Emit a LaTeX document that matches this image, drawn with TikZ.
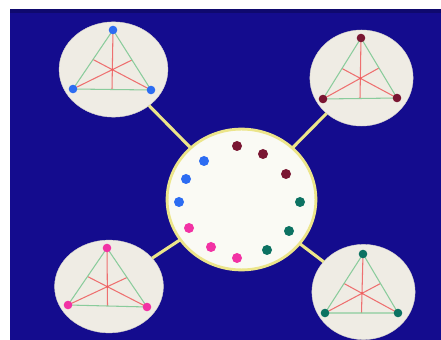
\documentclass[tikz,border=0pt]{standalone}
\usepackage{xcolor}
\usepackage{tikz}
\usetikzlibrary{shapes.geometric,calc}
\definecolor{SlBlue}{HTML}{140C8E}
\definecolor{SlDark}{HTML}{0C0850}
\definecolor{SlPaper}{HTML}{EFECE4}
\definecolor{SlHub}{HTML}{FAFAF4}
\definecolor{SlYellow}{HTML}{ECE58A}
\definecolor{SlGreen}{HTML}{8ACC9C}
\definecolor{SlRed}{HTML}{EE7070}
\definecolor{DotBlue}{HTML}{2C6CF2}
\definecolor{DotMaroon}{HTML}{7A1632}
\definecolor{DotTeal}{HTML}{0C7262}
\definecolor{DotPink}{HTML}{F232A4}
\tikzset{
  disc/.style={ellipse,fill=SlPaper,draw=SlPaper!90!black,line width=.3pt,inner sep=0pt,outer sep=0pt},
  hub/.style={ellipse,fill=SlHub,draw=SlYellow,line width=2pt,inner sep=0pt,outer sep=0pt,
    minimum width=3.72cm,minimum height=3.52cm},
  link/.style={draw=SlYellow,line width=2.2pt},
  edge/.style={draw=SlGreen,line width=.75pt},
  median/.style={draw=SlRed,line width=.75pt}
}

\begin{document}
\begin{tikzpicture}[x=0.025cm,y=-0.025cm]
\path[use as bounding box] (0,0) rectangle (441,340);
\fill[white] (0,0) rectangle (441,340);
\fill[SlBlue] (10,9) rectangle (441,340);
\fill[SlDark,opacity=.5] (10,9) rectangle (441,13);

% discs
\node[hub] (hub) at (241.5,199.5) {};
\node[disc,minimum width=2.72cm,minimum height=2.38cm] (tl) at (113.5,69.5) {};
\node[disc,minimum width=2.58cm,minimum height=2.40cm] (tr) at (361.5,78) {};
\node[disc,minimum width=2.72cm,minimum height=2.32cm] (bl) at (109,286.5) {};
\node[disc,minimum width=2.58cm,minimum height=2.38cm] (br) at (363.5,292) {};

% links
\draw[link] (hub) -- (tl);
\draw[link] (hub) -- (tr);
\draw[link] (hub) -- (bl);
\draw[link] (hub) -- (br);

% triangles
\foreach \t/\ax/\ay/\bx/\by/\cx/\cy/\col in {
  tl/113/30/73/89/151/90/DotBlue,
  tr/361/38/323/99/397/98/DotMaroon,
  bl/107/248/68/305/147/307/DotPink,
  br/363/254/325/313/398/313/DotTeal}{
  \coordinate (\t A) at (\ax,\ay);
  \coordinate (\t B) at (\bx,\by);
  \coordinate (\t C) at (\cx,\cy);
  \draw[median] (\t A) -- ($(\t B)!.5!(\t C)$);
  \draw[median] (\t B) -- ($(\t A)!.5!(\t C)$);
  \draw[median] (\t C) -- ($(\t A)!.5!(\t B)$);
  \draw[edge] (\t A) -- (\t B) -- (\t C) -- cycle;
  \fill[SlRed!80!red] ($1/3*(\t A)+1/3*(\t B)+1/3*(\t C)$) circle (1.4);
  \fill[\col] (\t A) circle (4.3);
  \fill[\col] (\t B) circle (4.3);
  \fill[\col] (\t C) circle (4.3);
}

% dots round the hub
\foreach \x/\y/\col in {
  237/146/DotMaroon, 263/154/DotMaroon, 286/174/DotMaroon,
  300/202/DotTeal, 289/231/DotTeal, 267/250/DotTeal,
  237/258/DotPink, 211/247/DotPink, 189/228/DotPink,
  179/202/DotBlue, 186/179/DotBlue, 204/161/DotBlue}
  \fill[\col] (\x,\y) circle (5);
\end{tikzpicture}
\end{document}
